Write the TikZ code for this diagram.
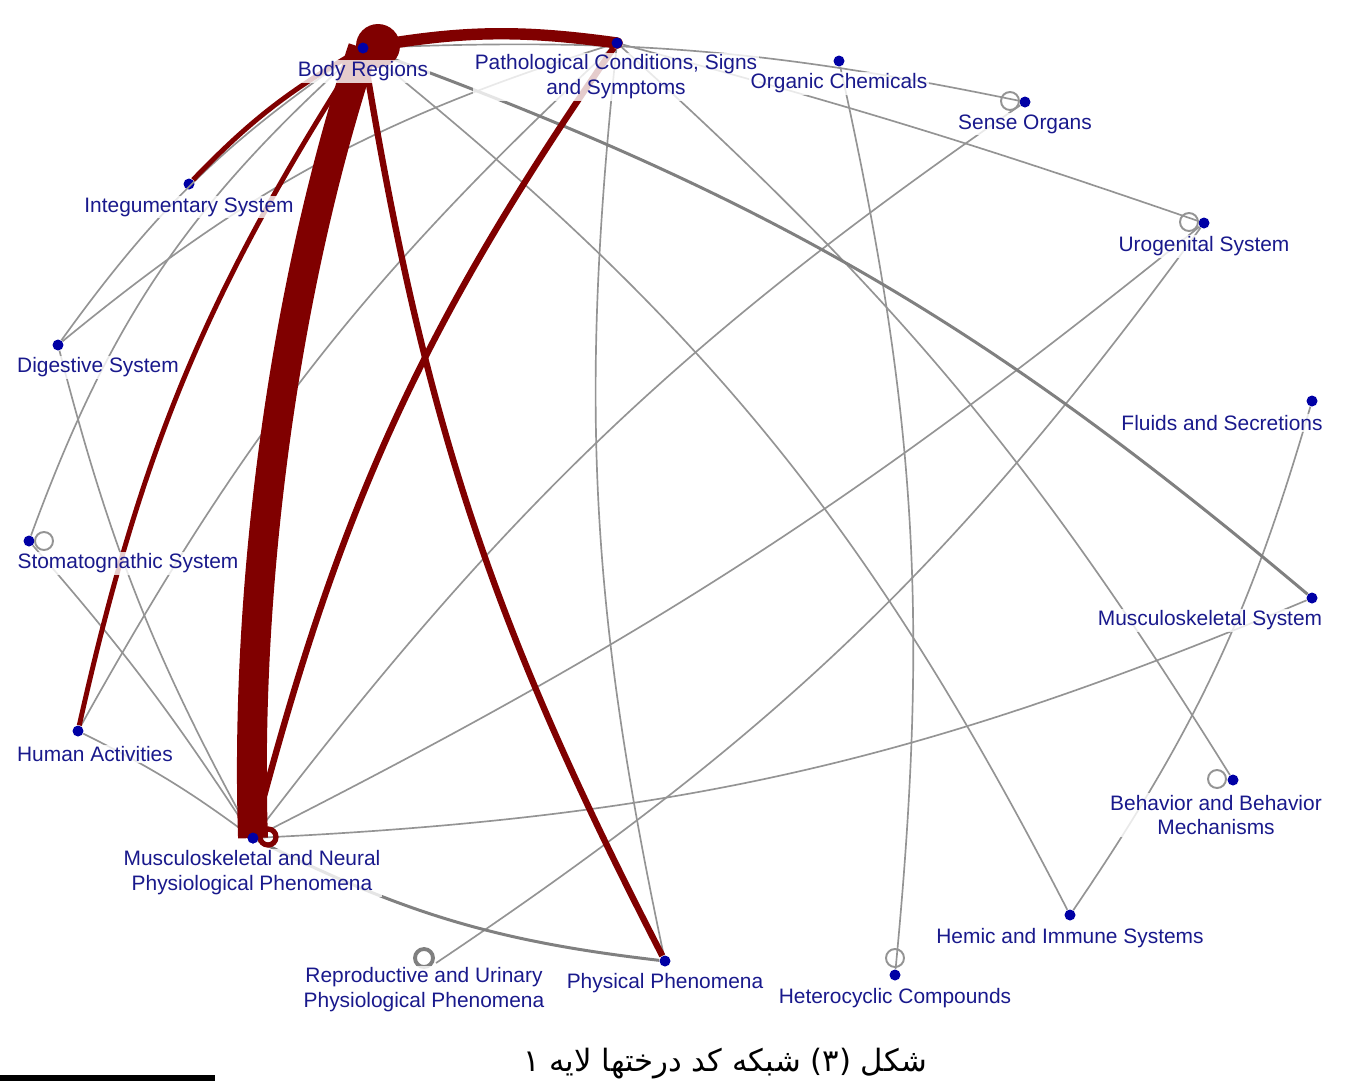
\documentclass[tikz,border=0pt]{standalone}
\usepackage{fontspec}
\setmainfont{Liberation Sans}
\newfontfamily\arabicfont[Script=Arabic]{DejaVu Sans}
\TeXXeTstate=1
\definecolor{edgered}{RGB}{128,0,0}
\definecolor{edgegray}{RGB}{148,148,148}
\definecolor{edgegrayd}{RGB}{128,128,128}
\definecolor{dotblue}{RGB}{0,0,165}
\definecolor{labblue}{RGB}{25,25,140}
\tikzset{
  vdot/.style={circle, fill=dotblue, inner sep=0pt, minimum size=0.22cm},
  lab/.style={text=labblue, font=\fontsize{11.9pt}{14.2pt}\selectfont, fill=white, fill opacity=0.8, text opacity=1, inner sep=1pt, align=center},
  gedge/.style={draw=edgegray, line width=0.95pt},
  gthick/.style={draw=edgegrayd, line width=1.7pt},
  redge/.style={draw=edgered, line width=3.2pt},
  sloop/.style={circle, draw=edgegray, line width=1.1pt, inner sep=0pt, minimum size=0.36cm},
}
\begin{document}
\begin{tikzpicture}[x=0.02cm,y=-0.02cm]
\useasboundingbox (0,0) rectangle (1349,1083);
\fill[white] (0,0) rectangle (1349,1083);

% vertices
\node[vdot] (br) at (363,48) {};
\node[vdot] (pc) at (617,43) {};
\node[vdot] (oc) at (839,61) {};
\node[vdot] (so) at (1025,102) {};
\node[vdot] (us) at (1204,223) {};
\node[vdot] (fs) at (1312,401) {};
\node[vdot] (ms) at (1312,598) {};
\node[vdot] (bb) at (1233,780) {};
\node[vdot] (hi) at (1070,915) {};
\node[vdot] (hc) at (895,975) {};
\node[vdot] (pp) at (665,961) {};
\node[vdot] (mn) at (253,838) {};
\node[vdot] (ha) at (78,731) {};
\node[vdot] (ss) at (29,541) {};
\node[vdot] (ds) at (58,345) {};
\node[vdot] (isy) at (189,184) {};
\coordinate (ru) at (436,963);

% gray edges
\draw[gedge] (br) to[bend left=7] (so);
\draw[gedge] (pc) to[bend left=2] (us);
\draw[gedge] (pc) to[bend left=8] (bb);
\draw[gedge] (br) to[bend left=12] (hi);
\draw[gedge] (pc) to[bend right=9] (pp);
\draw[gedge] (oc) to[bend left=9] (hc);
\draw[gedge] (so) to[bend right=9] (mn);
\draw[gedge] (us) to[bend left=6] (mn);
\draw[gedge] (us) to[bend left=10] (ru);
\draw[gedge] (ms) to[bend left=10] (mn);
\draw[gedge] (fs) to[bend left=9] (hi);
\draw[gedge] (ds) to[bend left=10] (br);
\draw[gedge] (ss) to[bend left=14] (br);
\draw[gedge] (ds) to[bend left=11] (pc);
\draw[gedge] (ha) to[bend left=9] (pc);
\draw[gedge] (ds) to[bend right=7] (mn);
\draw[gedge] (ss) to[bend left=4] (mn);
\draw[gedge] (ha) to[bend left=5] (mn);
\draw[gthick] (br) to[bend left=10] (ms);
\draw[gthick] (mn) to[bend right=10] (pp);

% maroon edges
\draw[draw=edgered, line width=17pt] (br.center) .. controls (280,300) and (245,600) .. (mn.center);
\draw[draw=edgered, line width=6.5pt, line cap=round] (br.center) to[bend left=9] (pc.center);
\draw[redge, line width=2.8pt] (isy) to[bend left=8] (br);
\draw[redge, line width=2.8pt] (ha) to[bend left=10] (br);
\draw[redge, line width=3.6pt] (br) to[bend right=9] (pp);
\draw[redge, line width=3.6pt] (pc) to[bend right=10] (mn);

% self loops
\fill[edgered] (378,46) circle[radius=0.44cm];
\node[circle, draw=edgered, line width=3pt, inner sep=0pt, minimum size=0.32cm] (mn-loop) at (268,837) {};
\node[sloop] (so-loop) at (1010,101) {};
\node[sloop] (us-loop) at (1189,222) {};
\node[sloop] (bb-loop) at (1217,779) {};
\node[sloop] (hc-loop) at (895,958) {};
\node[sloop] (ss-loop) at (44,541) {};
\node[sloop, draw=edgegrayd, line width=2.2pt] (ru-loop) at (424,958) {};

% dots again on top
\foreach \p in {(363,48),(617,43),(253,838)}
  \fill[dotblue] \p circle[radius=0.11cm];

% labels
\node[lab] (br-l) at (363,71) {Body Regions};
\node[lab] (pc-l) at (616,77) {Pathological Conditions, Signs\\and Symptoms};
\node[lab] (oc-l) at (839,83) {Organic Chemicals};
\node[lab] (so-l) at (1025,124) {Sense Organs};
\node[lab] (us-l) at (1204,246) {Urogenital System};
\node[lab] (fs-l) at (1222,423) {Fluids and Secretions};
\node[lab] (ms-l) at (1210,620) {Musculoskeletal System};
\node[lab] (bb-l) at (1216,815) {Behavior and Behavior\\Mechanisms};
\node[lab] (hi-l) at (1070,938) {Hemic and Immune Systems};
\node[lab] (hc-l) at (895,998) {Heterocyclic Compounds};
\node[lab] (pp-l) at (665,983) {Physical Phenomena};
\node[lab] (ru-l) at (424,990) {Reproductive and Urinary\\Physiological Phenomena};
\node[lab] (mn-l) at (252,873) {Musculoskeletal and Neural\\Physiological Phenomena};
\node[lab] (ha-l) at (95,754) {Human Activities};
\node[lab] (ss-l) at (128,563) {Stomatognathic System};
\node[lab] (ds-l) at (98,367) {Digestive System};
\node[lab] (is-l) at (189,207) {Integumentary System};

% caption and rule
\fill[black] (0,1075) rectangle (215,1081);
\node[font=\arabicfont\fontsize{17.5pt}{20pt}\selectfont, anchor=base, inner sep=0pt] (caption) at (725,1071) {\beginR شکل (۳) شبکه کد درختها لایه ۱\endR};
\end{tikzpicture}
\end{document}
